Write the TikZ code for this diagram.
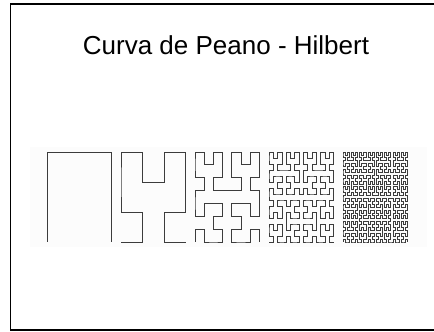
\documentclass[tikz,border=0pt]{standalone}
\usepackage{fontspec}
\setmainfont{Liberation Sans}
\usetikzlibrary{lindenmayersystems}
\definecolor{curvegray}{RGB}{60,60,60}
\definecolor{panelgray}{RGB}{252,252,252}
\pgfdeclarelindenmayersystem{hilbertpath}{
  \rule{L -> +RF-LFL-FR+}
  \rule{R -> -LF+RFR+FL-}
}
\begin{document}
\begin{tikzpicture}[x=1pt,y=1pt]
\useasboundingbox (0,0) rectangle (434,332);
\draw[line width=1.6pt] (10.5,2) rectangle (440,328);
\fill[panelgray] (30,85) rectangle (427,185);
\node[anchor=base,font=\fontsize{26}{30}\selectfont] (title) at (226,277) {Curva de Peano - Hilbert};
\foreach \n in {1,...,5}{
  \pgfmathsetmacro{\xo}{47+74*(\n-1)}
  \pgfmathsetmacro{\sx}{64.5/(2^\n-1)}
  \pgfmathsetmacro{\sy}{90/(2^\n-1)}
  \begin{scope}[shift={(\xo,90)},xscale=\sx,yscale=\sy]
    \draw[curvegray,line width=0.75pt,line join=miter,l-system={hilbertpath,axiom=L,order=\n,step=1pt,angle=90}] (0,0) lindenmayer system;
  \end{scope}
}
\end{tikzpicture}
\end{document}
